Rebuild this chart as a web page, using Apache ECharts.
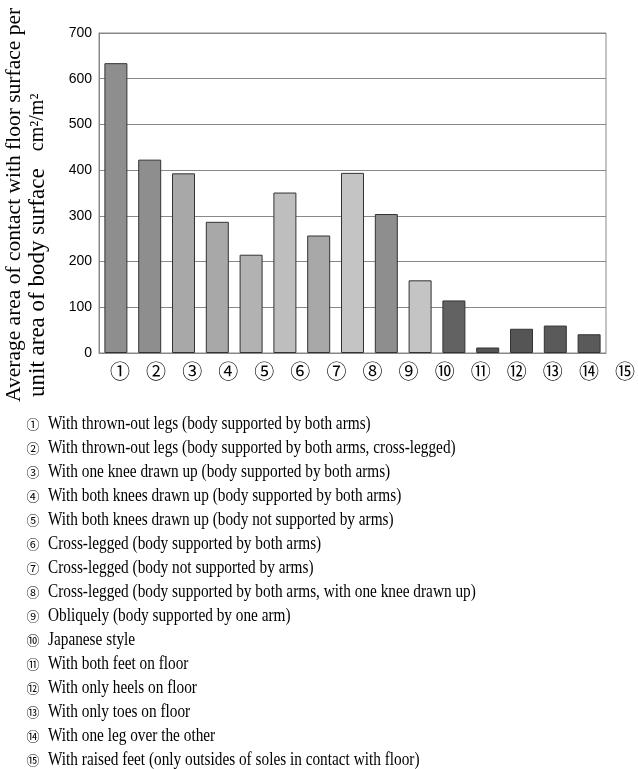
<!DOCTYPE html>
<html>
<head>
<meta charset="utf-8">
<script src="https://cdn.jsdelivr.net/npm/echarts@6/dist/echarts.min.js"></script>
<style>
  html, body { margin: 0; padding: 0; background: #fff; }
  #chart { width: 638px; height: 769px; }
</style>
</head>
<body>
<div id="chart"></div>
<script>
// categories (postures) and the average contact area
const categories = ["①", "②", "③", "④", "⑤", "⑥", "⑦", "⑧", "⑨", "⑩", "⑪", "⑫", "⑬", "⑭", "⑮"];
const areaValues = [634, 423, 393, 287, 215, 351, 257, 394, 304, 159, 115, 12, 53, 60, 41];
const barShades = ["#8e8e8e", "#8e8e8e", "#a8a8a8", "#a8a8a8", "#b2b2b2", "#bebebe", "#a8a8a8", "#c4c4c4",
                   "#8e8e8e", "#c4c4c4", "#626262", "#555555", "#555555", "#5a5a5a", "#5a5a5a"];
const descriptions = [
  "With thrown-out legs (body supported by both arms)",
  "With thrown-out legs (body supported by both arms, cross-legged)",
  "With one knee drawn up (body supported by both arms)",
  "With both knees drawn up (body supported by both arms)",
  "With both knees drawn up (body not supported by arms)",
  "Cross-legged (body supported by both arms)",
  "Cross-legged (body not supported by arms)",
  "Cross-legged (body supported by both arms, with one knee drawn up)",
  "Obliquely (body supported by one arm)",
  "Japanese style",
  "With both feet on floor",
  "With only heels on floor",
  "With only toes on floor",
  "With one leg over the other",
  "With raised feet (only outsides of soles in contact with floor)"
];
const yTitle1 = "Average area of contact with floor surface per";
const yTitle2 = "unit area of body surface   ";
const yUnit = "cm\u00b2/m\u00b2";

const serif = '"Liberation Serif", "DejaVu Serif", serif';
const circled = '"Noto Sans CJK JP", "DejaVu Sans", sans-serif';

const myChart = echarts.init(document.getElementById("chart"), null, { renderer: "canvas" });

// legend lines under the chart
const legendItems = [];
descriptions.forEach((d, i) => {
  const y = 424 + i * 24;
  legendItems.push({
    type: "text", x: 33, y: y,
    style: { text: categories[i], font: "13px " + circled, fill: "#000", align: "center", verticalAlign: "middle" }
  });
  legendItems.push({
    type: "text", x: 48, y: y, scaleY: 1.22,
    style: { text: d, font: "15.3px " + serif, fill: "#000", align: "left", verticalAlign: "middle" }
  });
});

const option = {
  animation: false,
  grid: [
    { left: 99, top: 33, width: 507, height: 320, show: true, borderColor: "#888", borderWidth: 1 },
    // label row: the circled numbers are spaced a bit wider than the bars
    { left: 120, top: 33, width: 508, height: 320, show: false }
  ],
  xAxis: [
    {
      type: "category",
      gridIndex: 0,
      data: categories,
      axisLine: { lineStyle: { color: "#888" } },
      axisTick: { inside: true, length: 4, lineStyle: { color: "#999" } },
      axisLabel: { show: false }
    },
    {
      type: "category",
      gridIndex: 1,
      data: categories,
      boundaryGap: false,
      axisLine: { show: false },
      axisTick: { show: false },
      axisLabel: { margin: 8, fontSize: 20, fontFamily: circled, color: "#000" }
    }
  ],
  yAxis: [
    {
      type: "value",
      gridIndex: 0,
      min: 0,
      max: 700,
      interval: 100,
      axisLine: { show: true, lineStyle: { color: "#888" } },
      axisTick: { show: false },
      axisLabel: { margin: 7, fontSize: 14, fontFamily: '"Liberation Sans", Arial, sans-serif', color: "#000" },
      splitLine: { lineStyle: { color: "#888", width: 1 } }
    },
    { type: "value", gridIndex: 1, min: 0, max: 1, show: false }
  ],
  series: [
    {
      type: "bar",
      xAxisIndex: 0,
      yAxisIndex: 0,
      barWidth: 23,
      data: areaValues.map((v, i) => ({
        value: v,
        itemStyle: { color: barShades[i], borderColor: "#333", borderWidth: 1 }
      }))
    }
  ],
  graphic: [
    {
      type: "text", x: 14, y: 402, rotation: Math.PI / 2,
      style: { text: yTitle1, font: "21.5px " + serif, fill: "#000", align: "left", verticalAlign: "middle" }
    },
    {
      type: "text", x: 38, y: 397, rotation: Math.PI / 2,
      style: {
        text: "{a|" + yTitle2 + "}{u|" + yUnit + "}",
        align: "left",
        verticalAlign: "middle",
        rich: {
          a: { fontSize: 23, fontFamily: serif, color: "#000" },
          u: { fontSize: 20, fontFamily: serif, color: "#000" }
        }
      }
    }
  ].concat(legendItems)
};

myChart.setOption(option);
</script>
</body>
</html>
